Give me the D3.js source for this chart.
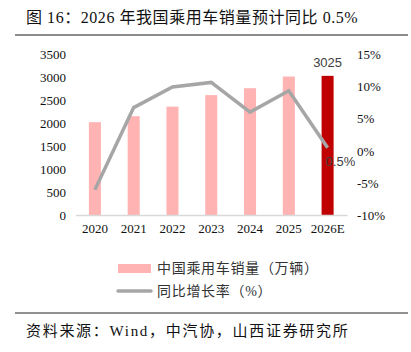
<!DOCTYPE html>
<html>
<head>
<meta charset="utf-8">
<script src="https://cdn.jsdelivr.net/npm/d3@7"></script>
<style>
  body { margin: 0; background: #fff; }
  svg { display: block; }
</style>
</head>
<body>
<svg id="chart" width="411" height="352"></svg>
<script>
const years = ["2020", "2021", "2022", "2023", "2024", "2025", "2026E"];
const sales = [2018, 2148, 2356, 2606, 2756, 3010, 3025];
const growth = [-6.0, 6.7, 9.9, 10.6, 6.0, 9.3, 0.5];
const leftTicks = [0, 500, 1000, 1500, 2000, 2500, 3000, 3500];
const rightTicks = [-10, -5, 0, 5, 10, 15];

const svg = d3.select("#chart");
const serif = "'Liberation Serif', 'Times New Roman', 'Noto Sans CJK SC', serif";
const cjk = "'Liberation Serif', 'Noto Sans CJK SC', sans-serif";

const x = d3.scaleBand().domain(years).range([75.5, 347]).paddingInner(0.69).paddingOuter(0.345);
const y = d3.scaleLinear().domain([0, 3500]).range([215, 54]);
const y2 = d3.scaleLinear().domain([-10, 15]).range([215.5, 54]);

// title
svg.append("text")
    .attr("x", 26).attr("y", 23)
    .attr("font-family", cjk)
    .style("font-size", "16px")
    .style("letter-spacing", "0.55px")
    .attr("fill", "#111")
    .text("图 16：2026 年我国乘用车销量预计同比 0.5%");

svg.append("line")
    .attr("x1", 15).attr("x2", 408).attr("y1", 35).attr("y2", 35)
    .attr("stroke", "#8c8c8c").attr("stroke-width", 2);

// left axis
const yAxis = svg.append("g")
    .attr("transform", "translate(66,0)")
    .call(d3.axisLeft(y).tickValues(leftTicks).tickSize(0).tickPadding(0).tickFormat(d3.format("d")))
    .call(g => g.select(".domain").remove());
yAxis.selectAll("text")
    .attr("font-family", serif).style("font-size", "13px").attr("fill", "#111");

// right axis
const y2Axis = svg.append("g")
    .attr("transform", "translate(357,0)")
    .call(d3.axisRight(y2).tickValues(rightTicks).tickSize(0).tickPadding(0).tickFormat(d => d + "%"))
    .call(g => g.select(".domain").remove());
y2Axis.selectAll("text")
    .attr("font-family", serif).style("font-size", "13px").attr("fill", "#111");

// bars
svg.selectAll(".bar")
    .data(years)
    .join("rect")
    .attr("class", "bar")
    .attr("x", d => x(d))
    .attr("width", x.bandwidth())
    .attr("y", (d, i) => y(sales[i]))
    .attr("height", (d, i) => y(0) - y(sales[i]))
    .attr("fill", (d, i) => i === years.length - 1 ? "#c00000" : "#ffb3b3");

// x axis
const xAxis = svg.append("g")
    .attr("transform", "translate(0,215)")
    .call(d3.axisBottom(x).tickSize(0).tickPadding(9));
xAxis.select(".domain").attr("stroke", "#d9d9d9").attr("stroke-width", 1.5);
xAxis.selectAll("text")
    .attr("font-family", serif).style("font-size", "13px").attr("fill", "#111");

// growth line
const line = d3.line()
    .x((d, i) => x(years[i]) + x.bandwidth() / 2)
    .y(d => y2(d));
svg.append("path")
    .datum(growth)
    .attr("fill", "none")
    .attr("stroke", "#a6a6a6")
    .attr("stroke-width", 3.5)
    .attr("stroke-linejoin", "miter")
    .attr("d", line);

// labels
const last = years.length - 1;
svg.append("text")
    .attr("x", x(years[last]) + x.bandwidth() / 2)
    .attr("y", y(sales[last]) - 9)
    .attr("text-anchor", "middle")
    .attr("font-family", "'Liberation Sans', Arial, sans-serif")
    .style("font-size", "13px")
    .attr("fill", "#404040")
    .text(sales[last]);

svg.append("text")
    .attr("x", x(years[last]) + x.bandwidth() / 2 - 2)
    .attr("y", y2(growth[last]) + 18)
    .attr("font-family", "'Liberation Sans', Arial, sans-serif")
    .style("font-size", "13px")
    .attr("fill", "#404040")
    .text(growth[last] + "%");

// legend
const legend = svg.append("g").attr("transform", "translate(118,0)");
legend.append("rect")
    .attr("x", 0).attr("y", 264).attr("width", 33).attr("height", 9)
    .attr("fill", "#ffb3b3");
legend.append("text")
    .attr("x", 39).attr("y", 273)
    .attr("font-family", cjk).style("font-size", "14px").style("letter-spacing", "0.7px").attr("fill", "#333")
    .text("中国乘用车销量（万辆）");
legend.append("line")
    .attr("x1", 0).attr("x2", 33).attr("y1", 291).attr("y2", 291)
    .attr("stroke", "#a6a6a6").attr("stroke-width", 3.5).attr("stroke-linecap", "round");
legend.append("text")
    .attr("x", 39).attr("y", 296)
    .attr("font-family", cjk).style("font-size", "14px").style("letter-spacing", "0.7px").attr("fill", "#333")
    .text("同比增长率（%）");

// footer
svg.append("line")
    .attr("x1", 15).attr("x2", 408).attr("y1", 313).attr("y2", 313)
    .attr("stroke", "#222").attr("stroke-width", 1);
svg.append("text")
    .attr("x", 26).attr("y", 336)
    .attr("font-family", cjk)
    .style("font-size", "15px")
    .style("letter-spacing", "1.7px")
    .attr("fill", "#111")
    .text("资料来源：Wind，中汽协，山西证券研究所");
</script>
</body>
</html>
